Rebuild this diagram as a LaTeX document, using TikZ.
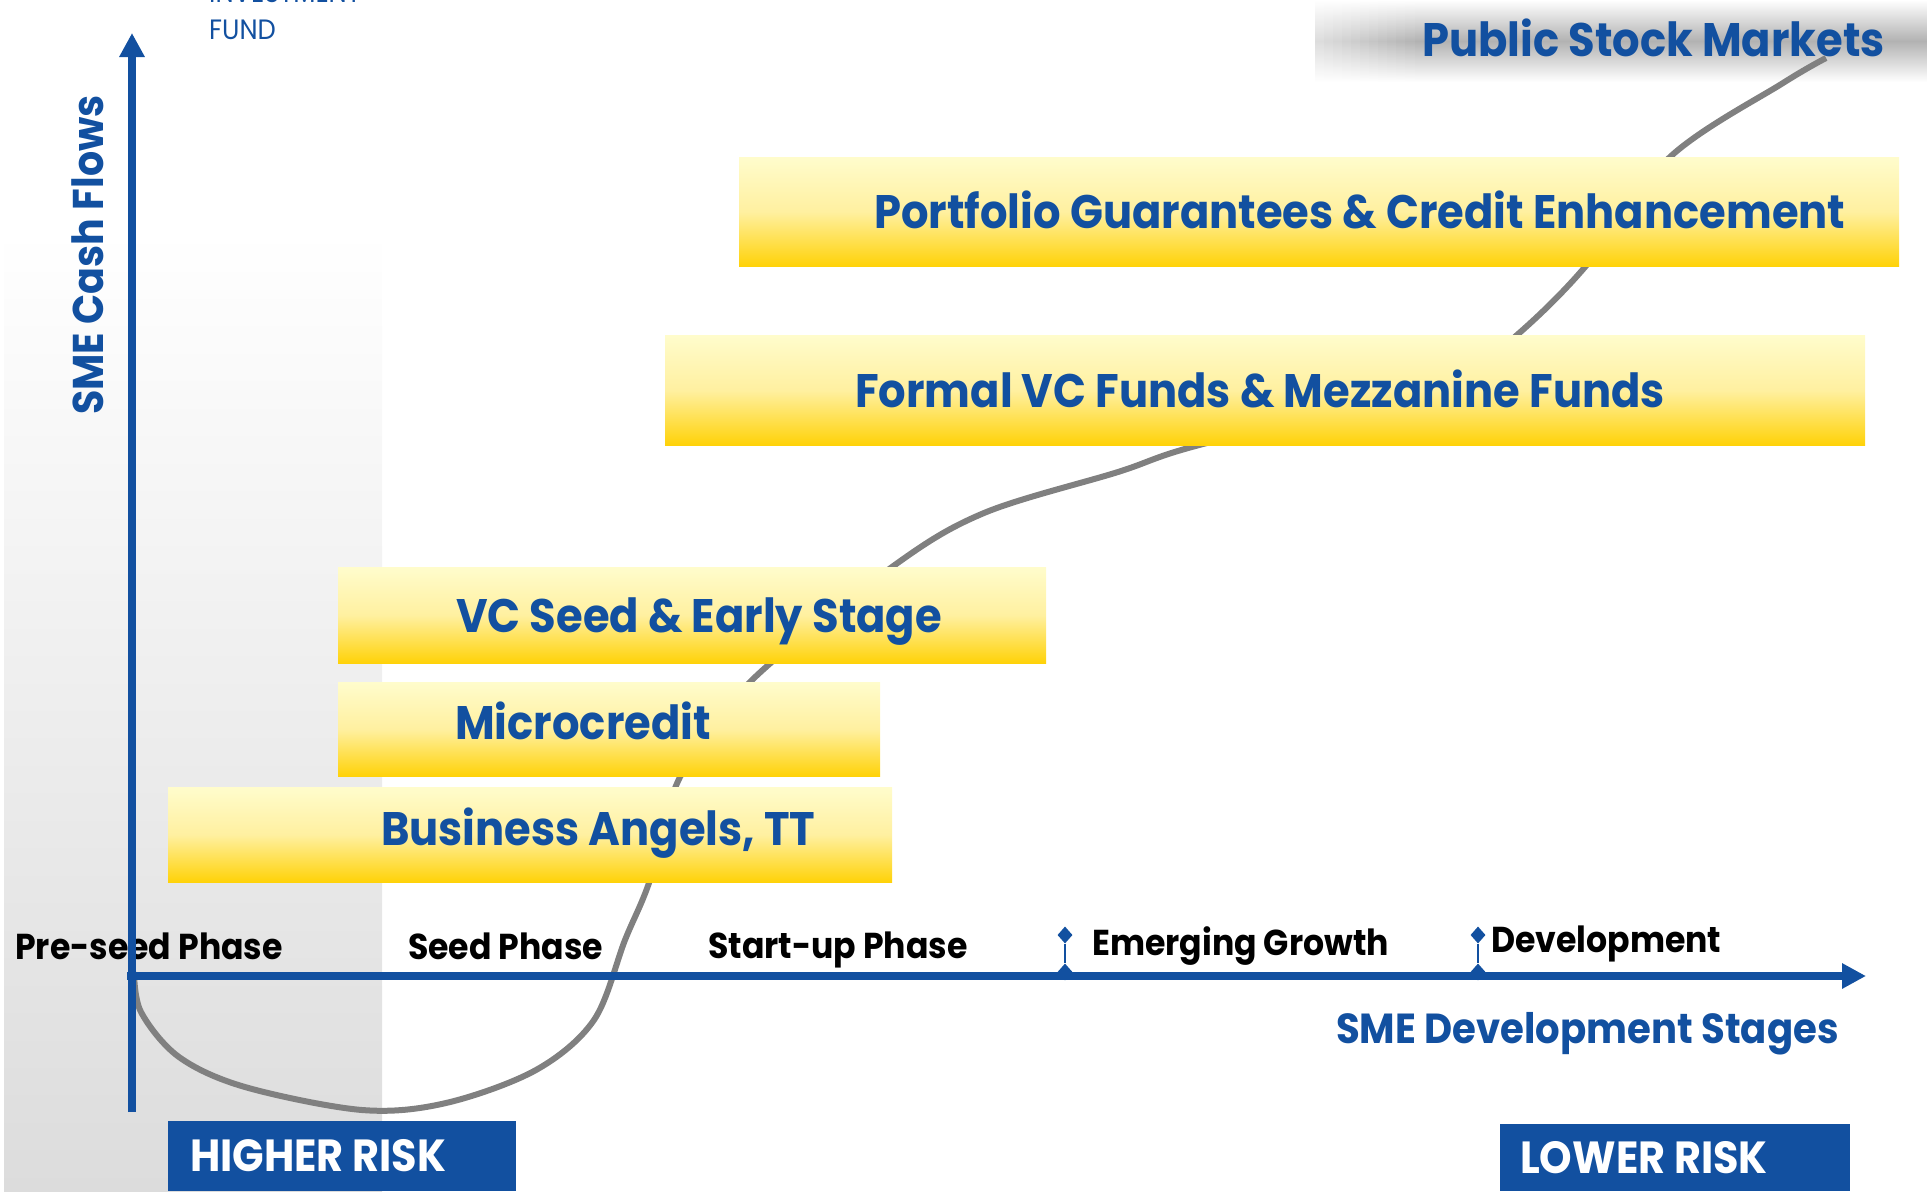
\documentclass[tikz,border=0pt]{standalone}
\usepackage{fontspec}
\usepackage{tikz}
\usepackage{xcolor}
\usetikzlibrary{arrows.meta,shapes.geometric}
\newfontfamily\smefont{Poppins}[FakeStretch=0.92]
\definecolor{smeblue}{RGB}{18,80,160}
\definecolor{curvegray}{RGB}{128,128,128}
\definecolor{yTop}{RGB}{255,252,204}
\definecolor{yMid}{RGB}{255,240,160}
\definecolor{yBot}{RGB}{255,210,8}
\definecolor{panelgray}{RGB}{220,220,220}
\definecolor{bandgray}{RGB}{178,178,178}

\begin{document}
\begin{tikzpicture}[x=1pt,y=-1pt,
  fundbox/.style={rectangle, inner sep=0pt, anchor=north west, top color=yTop, bottom color=yBot, middle color=yMid},
  fundtext/.style={anchor=base west, inner sep=0pt, text=smeblue, font=\smefont\bfseries\fontsize{47}{50}\selectfont},
  phase/.style={anchor=base west, inner sep=0pt, font=\smefont\bfseries\fontsize{36}{40}\selectfont},
  axislabel/.style={inner sep=0pt, text=smeblue, font=\smefont\bfseries\fontsize{#1}{#1}\selectfont},
  fundname/.style={anchor=base west, inner sep=0pt, text=smeblue, font=\smefont\fontsize{28}{30}\selectfont},
  riskbox/.style={rectangle, fill=smeblue, inner sep=0pt, anchor=north west},
  risktext/.style={anchor=base west, inner sep=0pt, text=white, font=\smefont\bfseries\fontsize{45}{48}\selectfont},
  tickmark/.style={diamond, fill=smeblue, inner sep=0pt, minimum width=15pt, minimum height=17pt},
  axisline/.style={draw=smeblue, line width=8pt, -{Triangle[length=24pt,width=24pt]}}]
\useasboundingbox (0,0) rectangle (1927,1191);

% backgrounds
\shade[top color=white, bottom color=panelgray] (4,230) rectangle (382,1191);
\shade[top color=white, bottom color=white, middle color=bandgray] (1410,0) rectangle (1927,82);
\foreach \i [evaluate=\i as \pct using 45+5*\i] in {0,...,10}
  \shade[top color=white, bottom color=white, middle color=bandgray!\pct] ({1315+9*\i},0) rectangle ({1325+9*\i},82);

\node[fundname] (investment) at (209,2) {INVESTMENT};
\node[fundname] (fund) at (209,39) {FUND};
\node[axislabel=47, anchor=base west] (stock) at (1422,56) {Public Stock Markets};

% S-curve
\draw[curvegray, line width=6pt] plot[smooth, tension=0.55] coordinates {(134,972) (141,1012) (179,1057) (245,1087) (362,1110) (446,1103) (536,1070) (594,1020) (625,940) (650,880) (680,777) (750,682) (892,567) (984,513) (1118,472) (1203,444) (1450,385) (1517,335) (1585,267) (1670,157) (1783,83) (1826,58)};

% financing boxes
\node[fundbox, minimum width=1160pt, minimum height=109pt] (portfolio) at (739,157) {};
\node[fundbox, minimum width=1200pt, minimum height=110pt] (formal) at (665,335) {};
\node[fundbox, minimum width=708pt, minimum height=96pt] (vcseed) at (338,567) {};
\node[fundbox, minimum width=542pt, minimum height=94pt] (micro) at (338,682) {};
\node[fundbox, minimum width=724pt, minimum height=95pt] (angels) at (168,787) {};
\node[fundtext] (portfoliotext) at (874,228) {Portfolio Guarantees \& Credit Enhancement};
\node[fundtext] (formaltext) at (855,407) {Formal VC Funds \& Mezzanine Funds};
\node[fundtext] (vcseedtext) at (456,632) {VC Seed \& Early Stage};
\node[fundtext] (microtext) at (455,739) {Microcredit};
\node[fundtext] (angelstext) at (381,845) {Business Angels, TT};

% stages
\node[phase] (preseed) at (15,959) {Pre-seed Phase};
\node[phase] (seed) at (408,959) {Seed Phase};
\node[phase] (startup) at (708,958) {Start-up Phase};
\node[phase] (emerging) at (1092,955) {Emerging Growth};
\node[phase] (develop) at (1491,952) {Development};

% axes
\coordinate (ybot) at (132,1112);
\coordinate (ytip) at (132,33);
\coordinate (xstart) at (127,976);
\coordinate (xtip) at (1866,976);
\draw[axisline] (ybot) -- (ytip);
\draw[axisline] (xstart) -- (xtip);
\node[axislabel=43, rotate=90, anchor=base] (cashflows) at (103,255) {SME Cash Flows};
\node[axislabel=42, anchor=base west] (stages) at (1336,1043) {SME Development Stages};

\node[tickmark] (tickA) at (1065,935) {};
\node[tickmark] (tickAbase) at (1065,972) {};
\draw[smeblue, line width=2pt] (tickA) -- (tickAbase);
\node[tickmark] (tickB) at (1478,935) {};
\node[tickmark] (tickBbase) at (1478,972) {};
\draw[smeblue, line width=2pt] (tickB) -- (tickBbase);

% risk boxes
\node[riskbox, minimum width=348pt, minimum height=70pt] (higher) at (168,1121) {};
\node[risktext] (highertext) at (190,1171) {HIGHER RISK};
\node[riskbox, minimum width=350pt, minimum height=67pt] (lower) at (1500,1124) {};
\node[risktext] (lowertext) at (1520,1173) {LOWER RISK};
\end{tikzpicture}
\end{document}
